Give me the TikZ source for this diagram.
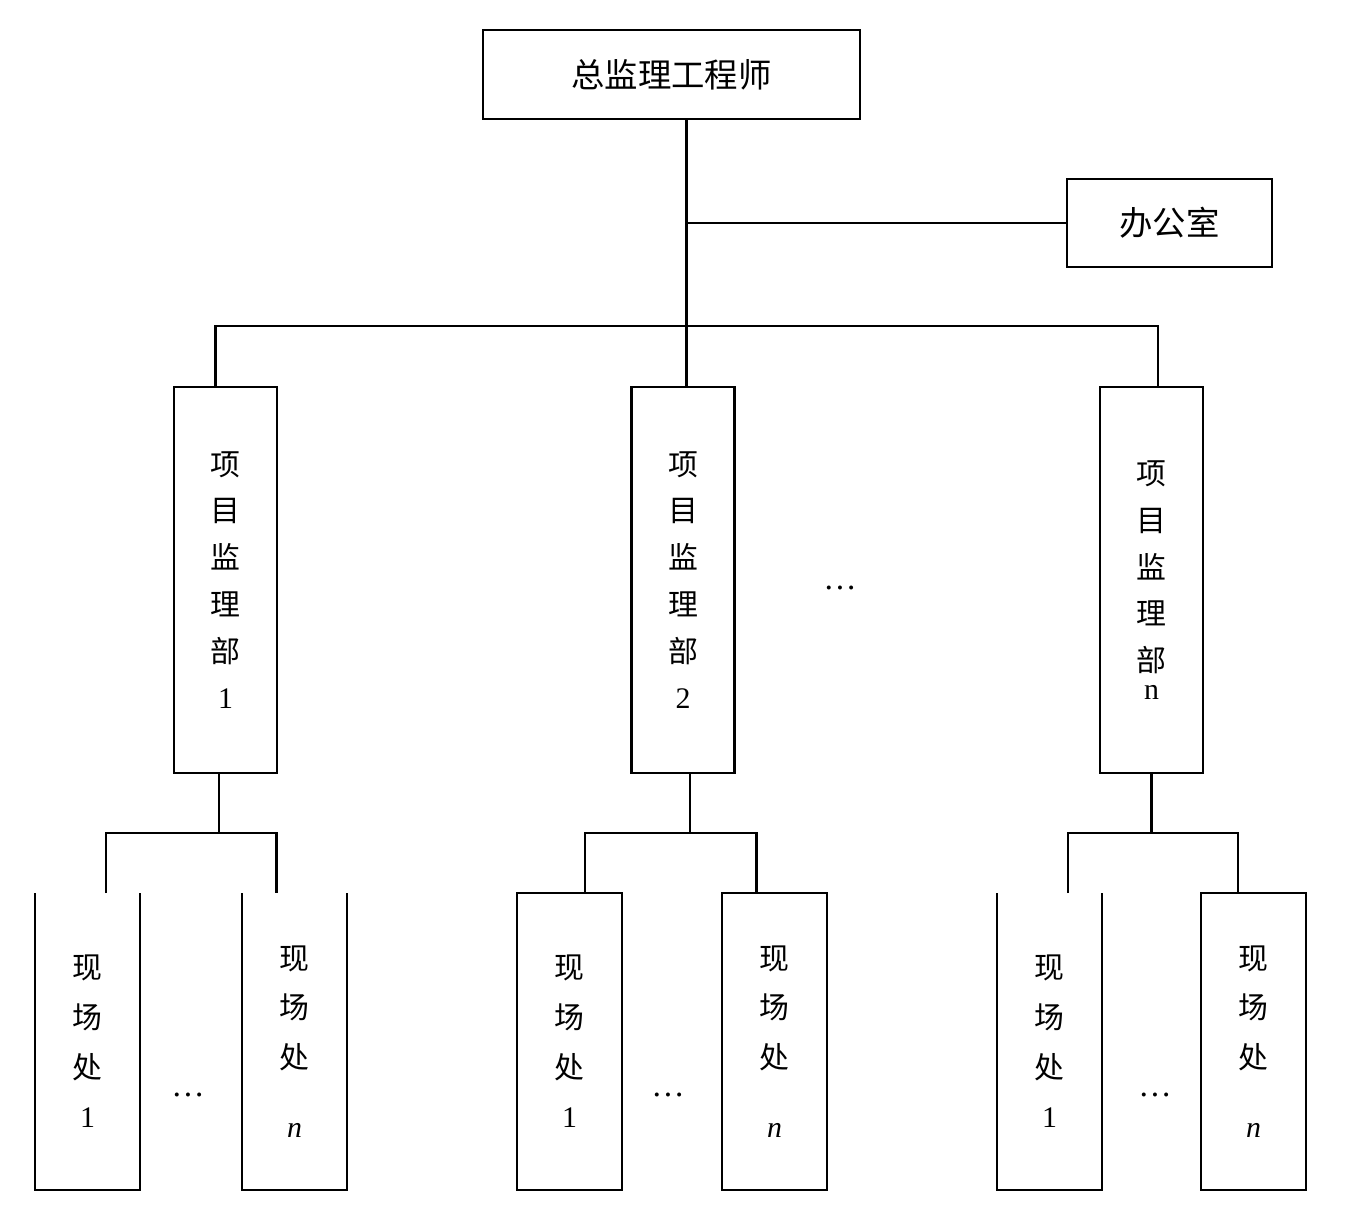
\documentclass[tikz,border=0pt]{standalone}
\usepackage{fontspec}
\setmainfont{Liberation Serif}
\newfontfamily\cjk{Noto Sans CJK SC}
\usetikzlibrary{positioning,calc}

\begin{document}
\begin{tikzpicture}[
  every node/.style={inner sep=0pt, outer sep=0pt},
  ln/.style={line width=1.4pt},
  headbox/.style={draw, line width=1.4pt, minimum width=7.54cm, minimum height=1.78cm,
    font=\cjk\fontsize{19pt}{23pt}\selectfont},
  sidebox/.style={draw, line width=1.4pt, minimum width=4.1cm, minimum height=1.76cm,
    font=\cjk\fontsize{19pt}{23pt}\selectfont},
  deptbox/.style={draw, line width=1.4pt, minimum width=2.06cm, minimum height=7.72cm,
    align=center, font=\cjk\fontsize{17pt}{26.6pt}\selectfont},
  sitebox/.style={draw, line width=1.4pt, minimum width=2.1cm, minimum height=5.94cm,
    align=center, font=\cjk\fontsize{17pt}{28.3pt}\selectfont},
  sitetext/.style={minimum width=2.1cm, minimum height=5.94cm,
    align=center, font=\cjk\fontsize{17pt}{28.3pt}\selectfont},
  gap/.style={font=\fontsize{19pt}{22pt}\selectfont}
]
  \useasboundingbox (0,0) rectangle (27.28,-24.54);
  % top level
  \node[headbox] (chief)  at (13.43,-1.49) {总监理工程师};
  \node[sidebox] (office) at (23.39,-4.46) {办公室};
  % project departments
  \node[deptbox] (p1) at (4.51,-11.6)  {项\\目\\监\\理\\部\\{\rmfamily 1}};
  \node[deptbox] (p2) at (13.66,-11.6) {项\\目\\监\\理\\部\\{\rmfamily 2}};
  \node[deptbox] (pn) at (23.03,-11.6) {项\\目\\监\\理\\部\\[-11pt]{\rmfamily n}};
  \node[gap] (pd) at (16.8,-11.75) {\rmfamily …};
  % site offices
  \node[sitetext] (s11) at (1.75,-20.83)  {现\\场\\处\\{\rmfamily 1}};
  \node[sitetext] (s1n) at (5.89,-20.83)  {现\\场\\处\\[11pt]{\rmfamily\itshape n}};
  \node[sitebox]  (s21) at (11.39,-20.83) {现\\场\\处\\{\rmfamily 1}};
  \node[sitebox]  (s2n) at (15.49,-20.83) {现\\场\\处\\[11pt]{\rmfamily\itshape n}};
  \node[sitetext] (sn1) at (20.99,-20.83) {现\\场\\处\\{\rmfamily 1}};
  \node[sitebox]  (snn) at (25.07,-20.83) {现\\场\\处\\[11pt]{\rmfamily\itshape n}};
  \node[gap] (d1) at (3.76,-21.9)  {\rmfamily …};
  \node[gap] (d2) at (13.36,-21.9) {\rmfamily …};
  \node[gap] (d3) at (23.1,-21.9)  {\rmfamily …};
  % open-top boxes
  \foreach \s in {s11,s1n,sn1}
    \draw[ln] (\s.north west) -- (\s.south west) -- (\s.south east) -- (\s.north east);
  % connectors
  \coordinate (tk) at ($(chief.south)+(0.3,0)$);
  \coordinate (bus) at ($(tk)+(0,-4.14)$);
  \draw[ln] (tk) -- (tk |- p2.north);
  \draw[ln] (tk |- office.west) -- (office.west);
  \draw[ln] (p1.93) |- (bus) -| (pn.88);
  \draw[ln] (p1.-92) -- ++(0,-1.2) coordinate (m1);
  \draw[ln] (s11.83) |- (m1) -| (s1n.97);
  \draw[ln] (p2.-88) -- ++(0,-1.2) coordinate (m2);
  \draw[ln] (s21.84) |- (m2) -| (s2n.97);
  \draw[ln] (pn.south) -- ++(0,-1.2) coordinate (m3);
  \draw[ln] (sn1.83) |- (m3) -| (snn.96);
\end{tikzpicture}
\end{document}
